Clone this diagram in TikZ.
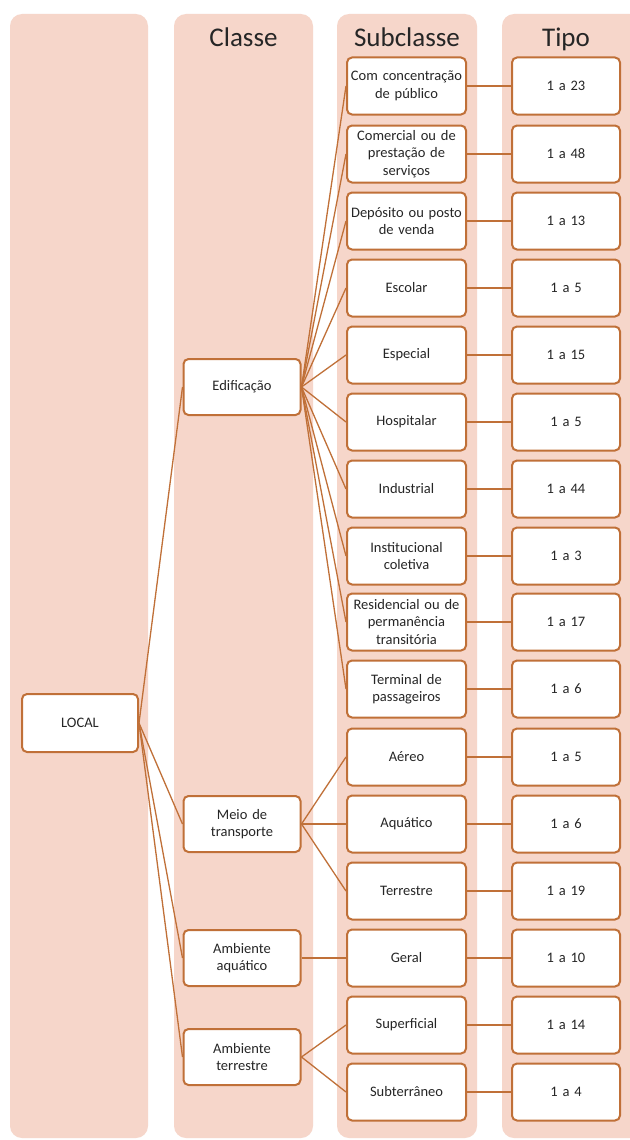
\documentclass[tikz,border=0pt]{standalone}
\usepackage{fontspec}
\setmainfont{Carlito}
\definecolor{colbg}{HTML}{F6D6CA}
\definecolor{edge}{HTML}{C07038}
\definecolor{txt}{HTML}{262626}
\begin{document}
\begin{tikzpicture}[x=1pt,y=-1pt,
  column/.style={fill=colbg,draw=none,rounded corners=12pt},
  box/.style={draw=edge,line width=2pt,fill=white,rounded corners=5pt,align=center,
    text=txt,font=\fontsize{14.5}{17.5}\selectfont,inner sep=1pt},
  sbox/.style={box,minimum width=119pt,minimum height=57pt,text width=117pt},
  tbox/.style={box,minimum width=108pt,minimum height=57pt,text width=104pt},
  cbox/.style={box,minimum width=117pt,minimum height=56pt,text width=112pt},
  head/.style={font=\fontsize{27}{30}\selectfont,text=txt,anchor=base},
  link/.style={draw=edge,line width=1.3pt}]
\useasboundingbox (0,0) rectangle (629,1140);
\fill[white] (0,0) rectangle (629,1140);
% columns
\fill[column] (10,14) rectangle (148,1138);
\fill[column] (174,14) rectangle (313,1138);
\fill[column] (337,14) rectangle (477,1138);
\fill[column] (502,14) rectangle (660,1138);
\node[head] (h2) at (243.5,47) {Classe};
\node[head] (h3) at (407,47) {Subclasse};
\node[head] (h4) at (566,47) {Tipo};
% root
\node[box,minimum width=116pt,minimum height=58pt,text width=110pt] (local) at (80,723) {LOCAL};
% classes
\node[cbox] (c1) at (242,387) {Edificação};
\node[cbox] (c2) at (242,824) {Meio de\\transporte};
\node[cbox] (c3) at (242,958) {Ambiente\\aquático};
\node[cbox] (c4) at (242,1057) {Ambiente\\terrestre};
% subclasses and tipos
\foreach \i/\y/\s/\t in {
  1/86/{Com concentração\\de público}/{1 a 23},
  2/154/{Comercial ou de\\prestação de\\serviços}/{1 a 48},
  3/221/{Depósito ou posto\\de venda}/{1 a 13},
  4/288/{Escolar}/{1 a 5},
  5/355/{Especial}/{1 a 15},
  6/422/{Hospitalar}/{1 a 5},
  7/489/{Industrial}/{1 a 44},
  8/556/{Institucional\\coletiva}/{1 a 3},
  9/622/{Residencial ou de\\permanência\\transitória}/{1 a 17},
  10/689/{Terminal de\\passageiros}/{1 a 6},
  11/757/{Aéreo}/{1 a 5},
  12/824/{Aquático}/{1 a 6},
  13/891/{Terrestre}/{1 a 19},
  14/958/{Geral}/{1 a 10},
  15/1025/{Superficial}/{1 a 14},
  16/1092/{Subterrâneo}/{1 a 4}}{
  \node[sbox] (s\i) at (406.5,\y) {\s};
  \node[tbox] (t\i) at (566,\y) {\t};
}
% connectors
\foreach \i in {1,...,16}{
  \draw[link] (s\i.east) -- (t\i.west);
}
\foreach \c in {c1,c2,c3,c4}{
  \draw[link] (local.east) -- (\c.west);
}
\foreach \i in {1,...,10}{
  \draw[link] (c1.east) -- (s\i.west);
}
\foreach \i in {11,12,13}{
  \draw[link] (c2.east) -- (s\i.west);
}
\draw[link] (c3.east) -- (s14.west);
\draw[link] (c4.east) -- (s15.west);
\draw[link] (c4.east) -- (s16.west);
\end{tikzpicture}
\end{document}
